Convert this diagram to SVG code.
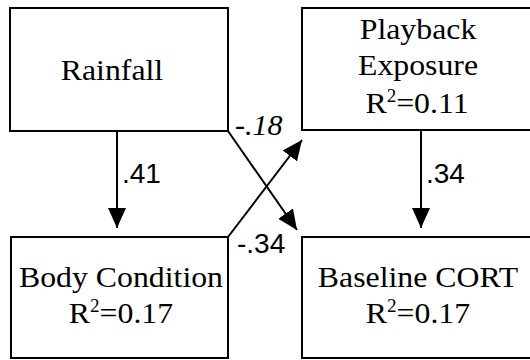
<svg xmlns="http://www.w3.org/2000/svg" width="530" height="360" viewBox="0 0 530 360">
<style>
.box{fill:#fff;stroke:#000;stroke-width:2}
.t{font-family:"Liberation Serif","Times New Roman",serif;font-size:30px;fill:#000;text-anchor:middle}
.sup{font-size:18px}
.lbl{font-family:"Liberation Sans",Arial,sans-serif;font-size:28px;fill:#000}
.lbi{font-family:"Liberation Serif","Times New Roman",serif;font-style:italic;font-size:30px;fill:#000}
.c{stroke:#000;stroke-width:2;fill:none;marker-end:url(#ah)}
</style>
<defs>
<marker id="ah" markerUnits="userSpaceOnUse" markerWidth="20" markerHeight="18" refX="20" refY="9" orient="auto">
<path d="M0,0 L20,9 L0,18 Z" fill="#000"/>
</marker>
</defs>
<rect width="530" height="360" fill="#fff"/>
<g id="rainfall">
<rect class="box" x="10" y="8" width="218" height="123"/>
<text class="t" transform="translate(112,80) scale(1.06,1)">Rainfall</text>
</g>
<g id="playback">
<rect class="box" x="302" y="8" width="240" height="122"/>
<text class="t" transform="translate(418,39) scale(1.06,1)">Playback</text>
<text class="t" transform="translate(418,75) scale(1.06,1)">Exposure</text>
<text class="t" transform="translate(417,113) scale(1.06,1)">R<tspan class="sup" dy="-11">2</tspan><tspan dy="11">=0.11</tspan></text>
</g>
<g id="body">
<rect class="box" x="11" y="237" width="217" height="121"/>
<text class="t" transform="translate(121,287) scale(1.06,1)">Body Condition</text>
<text class="t" transform="translate(121,323) scale(1.06,1)">R<tspan class="sup" dy="-11">2</tspan><tspan dy="11">=0.17</tspan></text>
</g>
<g id="cort">
<rect class="box" x="302" y="237" width="240" height="121"/>
<text class="t" transform="translate(418,287) scale(1.06,1)">Baseline CORT</text>
<text class="t" transform="translate(418,323) scale(1.06,1)">R<tspan class="sup" dy="-11">2</tspan><tspan dy="11">=0.17</tspan></text>
</g>
<g id="connectors">
<line class="c" x1="117" y1="131" x2="117" y2="228"/>
<line class="c" x1="421" y1="130" x2="421" y2="228"/>
<line class="c" x1="228" y1="131" x2="297" y2="230"/>
<line class="c" x1="228" y1="237" x2="302" y2="140"/>
<text class="lbl" x="122" y="183">.41</text>
<text class="lbl" x="426" y="183">.34</text>
<text class="lbi" x="235" y="135">-.18</text>
<text class="lbl" x="237" y="253">-.34</text>
</g>
</svg>
